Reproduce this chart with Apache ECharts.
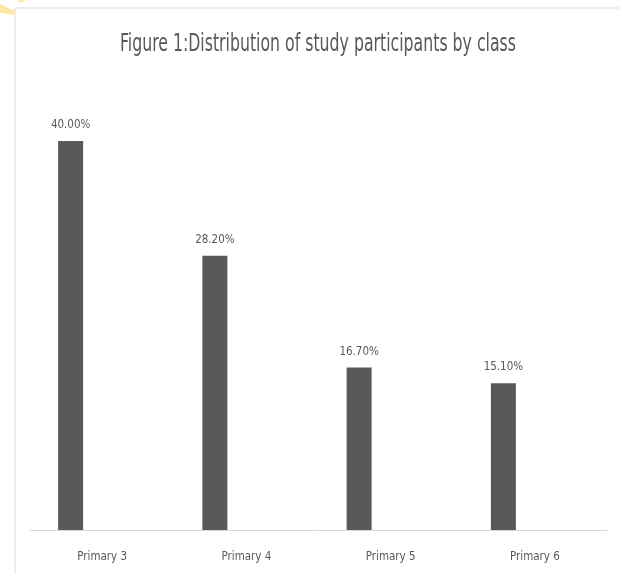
<!DOCTYPE html>
<html>
<head>
<meta charset="utf-8">
<script src="https://cdn.jsdelivr.net/npm/echarts@6/dist/echarts.min.js"></script>
<style>
  html, body { margin: 0; padding: 0; background: #fff; }
  #chart { width: 619px; height: 573px; }
</style>
</head>
<body>
<div id="chart"></div>
<script>
// Share of study participants per class (%)
const classes = ['Primary 3', 'Primary 4', 'Primary 5', 'Primary 6'];
const shares = [40.0, 28.2, 16.7, 15.1];
const spacer = [null, null, null, null];
const titleText = 'Figure 1:Distribution of study participants by class';

const FONT = '"DejaVu Sans Condensed", "Liberation Sans Narrow", "Roboto Condensed", sans-serif';
const GREY = '#595959';

const chart = echarts.init(document.getElementById('chart'));
chart.setOption({
  animation: false,
  backgroundColor: '#ffffff',
  grid: { left: 30, right: 12, top: 92.4, bottom: 43 },
  xAxis: {
    type: 'category',
    data: classes,
    axisLine: { lineStyle: { color: '#d9d9d9', width: 1 } },
    axisTick: { show: false },
    axisLabel: { fontFamily: FONT, fontSize: 11.5, color: GREY, margin: 21 }
  },
  yAxis: {
    type: 'value',
    min: 0,
    max: 45,
    show: false,
    splitLine: { show: false }
  },
  graphic: [
    // chart frame (top and left edges)
    { type: 'polyline', shape: { points: [[15, 573], [15, 8], [619, 8]] },
      style: { stroke: '#d9d9d9', lineWidth: 1, fill: null }, z: 0 },
    // corner ribbon
    { type: 'polygon', shape: { points: [[0, 4], [15, 11], [15, 15], [0, 13]] },
      style: { fill: '#fde7a6' }, z: 0 },
    { type: 'polygon', shape: { points: [[17, 0], [26, 0], [21, 3]] },
      style: { fill: '#fde7a6' }, z: 0 },
    // title, drawn tall and narrow
    { type: 'text', x: 318, y: 45, scaleY: 1.4,
      style: { text: titleText, fontFamily: FONT, fontSize: 17.5, fill: GREY,
               align: 'center', verticalAlign: 'middle' }, z: 10 }
  ],
  series: [
    {
      type: 'bar',
      data: shares,
      barWidth: 25,
      barGap: '152%',
      itemStyle: { color: GREY },
      label: {
        show: true,
        position: 'top',
        distance: 10,
        formatter: p => p.value.toFixed(2) + '%',
        fontFamily: FONT,
        fontSize: 11.5,
        color: GREY
      }
    },
    {
      type: 'bar',
      data: spacer,
      barWidth: 25,
      itemStyle: { color: 'transparent' }
    }
  ]
});
</script>
</body>
</html>
